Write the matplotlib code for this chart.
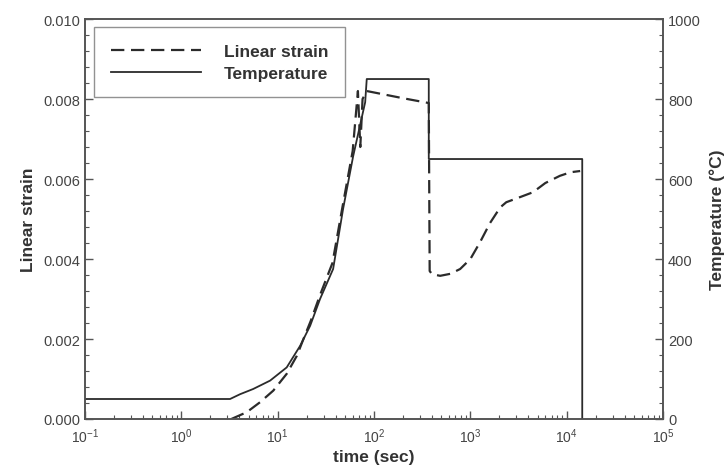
import matplotlib
matplotlib.use("Agg")
import matplotlib.pyplot as plt
from matplotlib.ticker import LogLocator, MultipleLocator, NullFormatter, FormatStrFormatter

plt.rcParams["font.family"] = ["Liberation Sans", "DejaVu Sans"]
plt.rcParams["mathtext.default"] = "regular"

# temperature history (s, degC)
temp_time = [0.1, 3.2, 4.07, 5.56, 8.34, 12.4, 17.1, 21.7, 27.5, 37.6, 47.7, 60.7,
             80.9, 84, 370, 370, 14500, 14500]
temp_vals = [50, 50, 62, 75, 96, 129, 183, 233, 300, 375, 525, 657,
             792, 850, 850, 650, 650, 0]

# linear strain history
strain_time = [3.3, 4.77, 6.56, 9.0, 12.4, 15.8, 18.5, 22.0, 27.5, 37.0, 47.0, 60.0,
               68.0, 72.0, 76.0, 84.0, 200.0, 370.0, 378.0, 400.0, 486.0, 620.0,
               783.0, 1000.0, 1260.0, 1600.0, 2040.0, 2360.0, 3300.0, 4470.0,
               6000.0, 8500.0, 11000.0, 13800.0]
strain_vals = [0.0, 0.00017, 0.00042, 0.00071, 0.00113, 0.00158, 0.0020, 0.00245,
               0.0031, 0.0039, 0.0053, 0.0067, 0.0082, 0.0068, 0.0080, 0.0082,
               0.00802, 0.0079, 0.0037, 0.00362, 0.00358, 0.00363, 0.00375, 0.0040,
               0.00442, 0.0049, 0.00529, 0.00542, 0.00555, 0.00567, 0.0059, 0.00608,
               0.00617, 0.0062]

x_ticks = [0.1, 1, 10, 100, 1e3, 1e4, 1e5]
x_ticklabels = [r"$10^{-1}$", r"$10^{0}$", r"$10^{1}$", r"$10^{2}$",
                r"$10^{3}$", r"$10^{4}$", r"$10^{5}$"]

line_color = "#2b2b2b"
axis_color = "#555555"
tick_color = "#444444"

fig = plt.figure(figsize=(7.27, 4.77), dpi=100)
ax = fig.add_axes([0.117, 0.1195, 0.795, 0.8385])
ax2 = ax.twinx()

l1, = ax.plot(strain_time, strain_vals, color=line_color, lw=1.6,
              dashes=(6, 3), label="Linear strain")
l2, = ax2.plot(temp_time, temp_vals, color=line_color, lw=1.3, label="Temperature")

ax.set_xscale("log")
ax.set_xlim(0.1, 1e5)
ax.set_ylim(0, 0.010)
ax2.set_ylim(0, 1000)

ax.xaxis.set_minor_locator(LogLocator(base=10, subs=range(2, 10), numticks=20))
ax.xaxis.set_minor_formatter(NullFormatter())
ax.set_xticks(x_ticks)
ax.set_xticklabels(x_ticklabels)

ax.yaxis.set_major_locator(MultipleLocator(0.002))
ax.yaxis.set_minor_locator(MultipleLocator(0.0004))
ax.yaxis.set_major_formatter(FormatStrFormatter("%.3f"))
ax2.yaxis.set_major_locator(MultipleLocator(200))
ax2.yaxis.set_minor_locator(MultipleLocator(40))

for a in (ax, ax2):
    a.tick_params(which="major", direction="in", length=6, width=1.0,
                  colors=axis_color, labelcolor=tick_color, labelsize=10.5)
    a.tick_params(which="minor", direction="in", length=3, width=0.8, colors=axis_color)
    for s in a.spines.values():
        s.set_color(axis_color)
        s.set_linewidth(1.2)
ax.tick_params(axis="x", which="both", top=False, pad=5, labelsize=10)

ax.set_xlabel("time (sec)", fontsize=12.5, fontweight="bold", color="#333333", labelpad=3)
ax.set_ylabel("Linear strain", fontsize=12.5, fontweight="bold", color="#333333", labelpad=5)
ax2.set_ylabel("Temperature (\u00b0C)", fontsize=12.5, fontweight="bold", color="#333333", labelpad=6)

leg = ax2.legend(handles=[l1, l2], loc="upper left", bbox_to_anchor=(0.016, 0.98),
                 frameon=True, fancybox=False, handlelength=5.2, handletextpad=1.3,
                 borderpad=0.95, borderaxespad=0.0, labelspacing=0.4,
                 prop={"weight": "bold", "size": 12.5})
leg.get_frame().set_edgecolor("#777777")
leg.get_frame().set_linewidth(1.0)
for t in leg.get_texts():
    t.set_color("#333333")

fig.savefig("out.png", dpi=100)
